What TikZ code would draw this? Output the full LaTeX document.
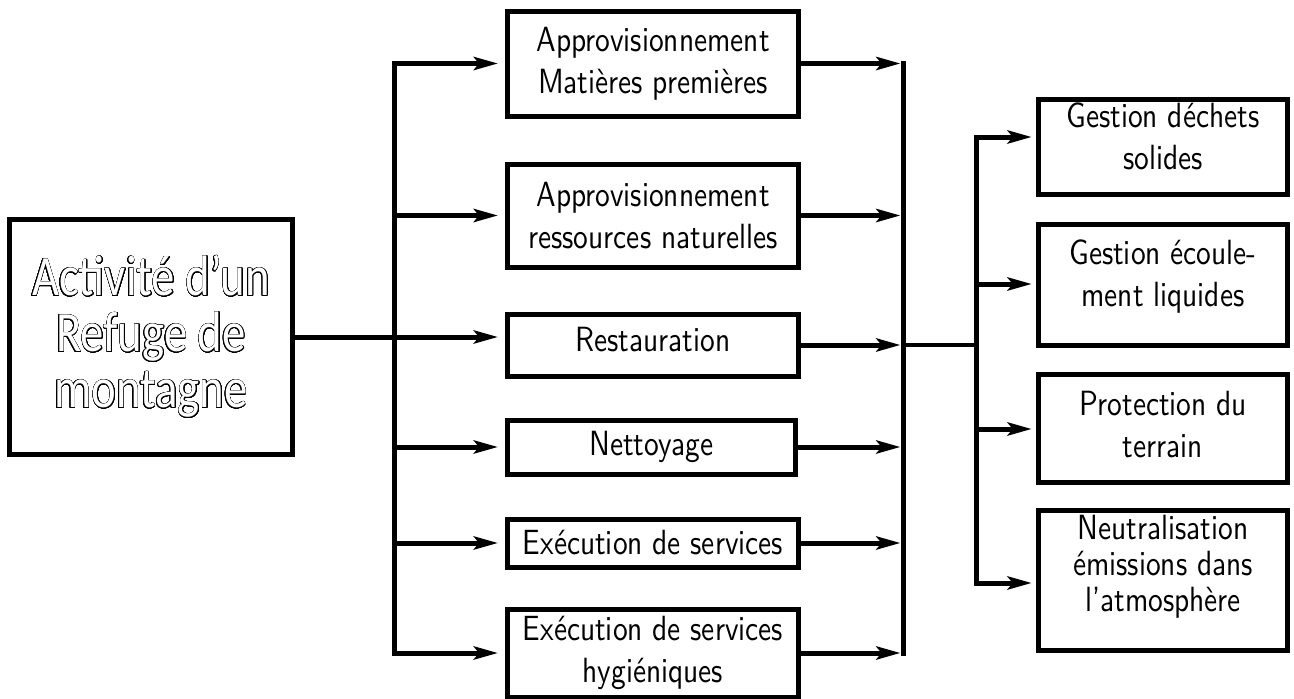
\documentclass[tikz,border=0pt]{standalone}
\usepackage{fontspec}
\usepackage{contour}
\usetikzlibrary{arrows.meta}
\newfontfamily\boxfont{lmsans10-regular}[Extension=.otf,FakeStretch=0.84]
\newfontfamily\titlefont{Carlito}[FakeStretch=0.82]
\contourlength{0.55pt}
\contournumber{32}
\tikzset{
  box/.style={draw, line width=5pt, inner sep=0pt, align=center,
    font=\boxfont\fontsize{35}{42}\selectfont},
  txt/.style={inner sep=0pt, align=center, font=\boxfont\fontsize{35}{42}\selectfont},
  wire/.style={line width=5pt, line cap=rect},
  link/.style={line width=3.5pt},
  arr/.style={line width=5pt, -{Stealth[length=24pt,width=13pt,inset=5pt]}},
}
\begin{document}
\begin{tikzpicture}[x=1pt,y=-1pt]
\useasboundingbox (0,0) rectangle (1294,699);
% title
\node[box, minimum width=283pt, minimum height=235pt, text=white,
  font=\titlefont\fontsize{57}{56}\selectfont] (title) at (151,337)
  {\contour{black}{Activité d’un}\\\contour{black}{Refuge de}\\\contour{black}{montagne}};
% middle boxes
\node[box, minimum width=291pt, minimum height=105pt] (m1) at (653,63.5) {Approvisionnement\\Matières premières};
\node[box, minimum width=291pt, minimum height=103pt] (m2) at (653,215.5) {Approvisionnement\\ressources naturelles};
\node[box, minimum width=291pt, minimum height=62pt] (m3) at (653,345) {};
\node[txt] (m3t) at ([yshift=5pt]m3.center) {Restauration};
\node[box, minimum width=287.5pt, minimum height=54pt] (m4) at (651.25,447) {Nettoyage};
\node[box, minimum width=291pt, minimum height=48pt] (m5) at (653,543) {Exécution de services};
\node[box, minimum width=291pt, minimum height=88pt] (m6) at (653,653) {Exécution de services\\hygiéniques};
% right boxes
\node[box, minimum width=248.5pt, minimum height=95.5pt] (ra) at (1163,147) {};
\node[txt] (rat) at ([yshift=11pt]ra.center) {Gestion déchets\\solides};
\node[box, minimum width=248.5pt, minimum height=121pt] (rb) at (1163,285) {};
\node[txt] (rbt) at ([yshift=8pt]rb.center) {Gestion écoule-\\ment liquides};
\node[box, minimum width=248.5pt, minimum height=108pt] (rc) at (1163,428.5) {};
\node[txt] (rct) at ([yshift=4pt]rc.center) {Protection du\\terrain};
\node[box, minimum width=248.5pt, minimum height=140pt] (rd) at (1163,580.5) {};
\node[txt, font=\boxfont\fontsize{35}{36}\selectfont] (rdt) at ([yshift=14pt]rd.center) {Neutralisation\\émissions dans\\l’atmosphère};
% bus coordinates
\coordinate (busL) at (394,0);
\coordinate (busR) at (903,0);
\coordinate (ja) at (976,137);
\coordinate (jb) at (976,284);
\coordinate (jc) at (976,429);
\coordinate (jd) at (976,583);
% left bus and arrows
\draw[wire] (m1.west -| busL) -- (m6.west -| busL);
\draw[arr] (title.east) -- ([xshift=-7pt]title.east -| m3.west);
\foreach \m in {m1,m2,m4,m5,m6}
  \draw[arr, shorten >=7pt] (\m.west -| busL) -- (\m.west);
% right bus and arrows
\draw[wire] (m1.east -| busR) -- (m6.east -| busR);
\foreach \m in {m1,m2,m3,m4,m5,m6}
  \draw[arr, shorten >=2.5pt] (\m.east) -- (\m.east -| busR);
\draw[link] (m3.east -| busR) -- (m3.east -| ja);
\draw[wire] (ja) -- (jd);
\draw[arr, shorten >=4.5pt] (ja) -- (ja -| ra.west);
\draw[arr, shorten >=4.5pt] (jb) -- (jb -| rb.west);
\draw[arr, shorten >=4.5pt] (jc) -- (jc -| rc.west);
\draw[arr, shorten >=4.5pt] (jd) -- (jd -| rd.west);
\end{tikzpicture}
\end{document}
